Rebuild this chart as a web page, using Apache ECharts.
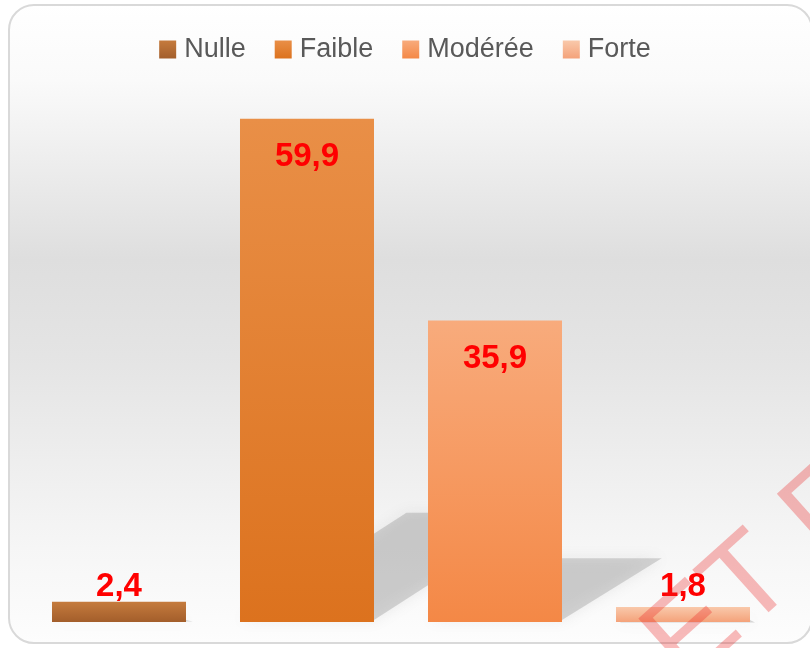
<!DOCTYPE html>
<html>
<head>
<meta charset="utf-8">
<script src="https://cdn.jsdelivr.net/npm/echarts/dist/echarts.min.js"></script>
<style>
html, body {
  margin: 0;
  padding: 0;
  background: #ffffff;
}
#main {
  width: 810px;
  height: 648px;
}
</style>
</head>
<body>
<div id='main'></div>
<script>
// data
var categories = ['Nulle', 'Faible', 'Modérée', 'Forte']
var values = [2.4, 59.9, 35.9, 1.8]
var labelPos = ['top', 'insideTop', 'insideTop', 'top']
var labelDist = [-2, 22, 22, 3]

// gradient colours, top -> bottom
var topColors = ['#c57b3d', '#e98f47', '#f8ab7c', '#f9c9ab']
var bottomColors = ['#a35e2b', '#dc721e', '#f48846', '#f4a27a']

var BAR_W = 134
var BAR_GAP = 54

var chart = echarts.init(document.getElementById('main'))

var series = []
for (var i = 0; i < categories.length; i++) {
  series.push({
    name: categories[i],
    type: 'bar',
    barWidth: BAR_W,
    barGap: (BAR_GAP / BAR_W * 100).toFixed(1) + '%',
    z: 3,
    data: [values[i]],
    itemStyle: {
      color: new echarts.graphic.LinearGradient(0, 0, 0, 1, [
        { offset: 0, color: topColors[i] },
        { offset: 1, color: bottomColors[i] }
      ])
    },
    label: {
      show: true,
      position: labelPos[i],
      distance: labelDist[i],
      color: '#ff0000',
      fontFamily: 'Liberation Sans',
      fontWeight: 'bold',
      fontSize: 33,
      lineHeight: 33,
      formatter: function (p) {
        return String(p.value).replace('.', ',')
      }
    }
  })
}

chart.setOption({
  animation: false,
  backgroundColor: '#ffffff',
  legend: {
    top: 31,
    left: 'center',
    itemWidth: 17,
    itemHeight: 18,
    itemGap: 29,
    icon: 'rect',
    data: categories,
    textStyle: {
      fontFamily: 'Liberation Sans',
      fontSize: 27,
      color: '#595959',
      padding: [0, 0, 0, 3]
    }
  },
  grid: {
    left: 6,
    right: 14,
    top: 118,
    bottom: 26
  },
  xAxis: {
    type: 'category',
    data: [''],
    show: false
  },
  yAxis: {
    type: 'value',
    min: 0,
    max: 60,
    show: false
  },
  series: series
})

// perspective shadows behind the bars, placed from the axes
var shadows = []
var groupW = categories.length * BAR_W + (categories.length - 1) * BAR_GAP
for (var j = 0; j < values.length; j++) {
  var p0 = chart.convertToPixel({ gridIndex: 0 }, [0, 0])
  var p1 = chart.convertToPixel({ gridIndex: 0 }, [0, values[j]])
  var base = p0[1]
  var x0 = p0[0] - groupW / 2 + j * (BAR_W + BAR_GAP)
  var x1 = x0 + BAR_W
  var h = (base - p1[1]) * 0.225
  var dx = h * 1.47
  shadows.push({
    type: 'polygon',
    z: 1,
    silent: true,
    shape: {
      points: [[x0, base - 2], [x1, base - 2], [x1 + dx, base - h + 4], [x0 + dx, base - h + 4]]
    },
    style: {
      fill: 'rgba(130,130,130,0.3)',
      shadowBlur: 14,
      shadowColor: 'rgba(130,130,130,0.45)'
    }
  })
}

var angle = 42 * Math.PI / 180
chart.setOption({
  graphic: [
    {
      type: 'rect',
      z: -10,
      silent: true,
      shape: { x: 9, y: 5, width: 803, height: 638, r: 25 },
      style: {
        fill: new echarts.graphic.LinearGradient(0, 0, 0, 1, [
          { offset: 0, color: '#ffffff' },
          { offset: 0.12, color: '#fafafa' },
          { offset: 0.4, color: '#dedede' },
          { offset: 0.55, color: '#e4e4e4' },
          { offset: 0.85, color: '#f6f6f6' },
          { offset: 1, color: '#fdfdfd' }
        ]),
        stroke: '#d9d9d9',
        lineWidth: 2
      }
    }
  ].concat(shadows).concat([
    {
      // watermark, mostly off the page
      type: 'text',
      z: 100,
      silent: true,
      x: 664,
      y: 662,
      rotation: angle,
      style: {
        text: 'ET F',
        font: '120px "Liberation Sans"',
        fill: 'rgba(235,30,30,0.3)',
        textAlign: 'left',
        textVerticalAlign: 'middle',
        verticalAlign: 'middle'
      }
    }
  ])
})
</script>
</body>
</html>
